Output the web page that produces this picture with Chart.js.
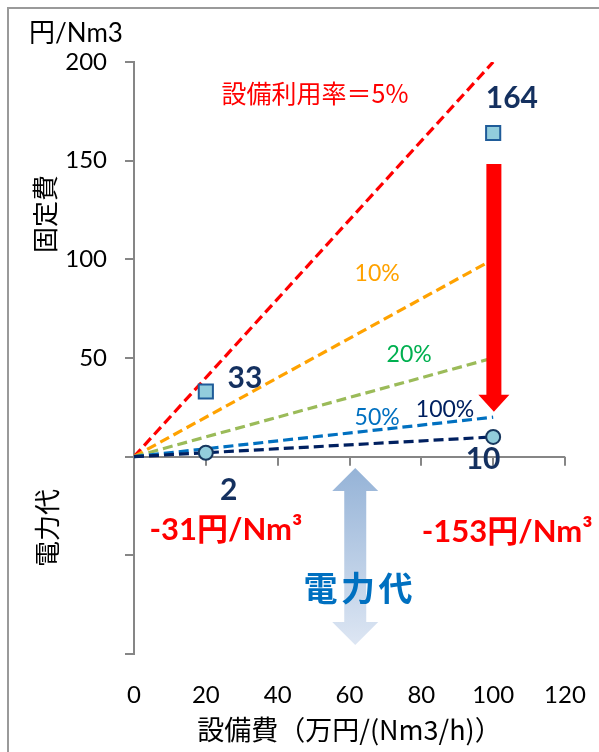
<!DOCTYPE html>
<html>
<head>
<meta charset="utf-8">
<script src="https://cdn.jsdelivr.net/npm/chart.js@4/dist/chart.umd.min.js"></script>
<style>
  html, body { margin: 0; padding: 0; background: #fff; overflow: hidden; }
  #wrap { position: relative; width: 599px; height: 752px; }
</style>
</head>
<body>
<div id="wrap"><canvas id="c" width="599" height="752"></canvas></div>
<script>
// Fixed cost per Nm3 versus equipment cost, for several utilisation rates
const rateLabels = ['設備利用率＝5%', '10%', '20%', '50%', '100%'];
const lineX = [0, 100];                       // 万円/(Nm3/h)
const fixedCostAt100 = [200, 100, 50, 20, 10]; // 円/Nm3 at 100 万円/(Nm3/h)
const pointX = [20, 100];
const fixedCost = [33, 164];
const electricityCost = [2, 10];
const powerSaving = ['-31円/Nm³', '-153円/Nm³'];
const xTickValues = [0, 20, 40, 60, 80, 100, 120];
const yTickValues = [-100, -50, 0, 50, 100, 150, 200];

const LATIN = "Lato, 'Noto Sans CJK JP', sans-serif";
const CJK = "'Noto Sans CJK JP', Lato, sans-serif";
const AXIS_GRAY = '#868686';
const NAVY = '#14305F';

const lineColors = ['#FF0000', '#FFA200', '#9BBB59', '#0070C0', '#002060'];
const labelColors = ['#FF0000', '#FFA200', '#00B050', '#0070C0', '#002060'];

// text annotations, positioned in data units
const notes = [
  { text: rateLabels[0], x: 50.4, y: 183.8, color: labelColors[0], font: `25px ${CJK}` },
  { text: rateLabels[1], x: 67.7, y: 92.6,  color: labelColors[1], font: `23px ${LATIN}` },
  { text: rateLabels[2], x: 76.6, y: 51.6,  color: labelColors[2], font: `23px ${LATIN}` },
  { text: rateLabels[3], x: 67.7, y: 19.6,  color: labelColors[3], font: `23px ${LATIN}` },
  { text: rateLabels[4], x: 86.6, y: 23.7,  color: labelColors[4], font: `23px ${LATIN}` },
  { text: String(fixedCost[1]), x: 105.2, y: 181.8, color: NAVY, font: `bold 30px ${LATIN}` },
  { text: String(fixedCost[0]), x: 30.9,  y: 39.9,  color: NAVY, font: `bold 30px ${LATIN}` },
  { text: String(electricityCost[0]), x: 26.4, y: -16.9, color: NAVY, font: `bold 30px ${LATIN}` },
  { text: String(electricityCost[1]), x: 97.2, y: -1.2,  color: NAVY, font: `bold 30px ${LATIN}` },
  { text: powerSaving[0], x: 25.6,  y: -37.1, color: '#FF0000', font: `bold 31px ${LATIN}` },
  { text: powerSaving[1], x: 103.9, y: -38.2, color: '#FF0000', font: `bold 31px ${LATIN}` }
];

const datasets = rateLabels.map((label, i) => ({
  label,
  data: lineX.map((x, k) => ({ x, y: k === 0 ? 0 : fixedCostAt100[i] })),
  showLine: true,
  borderColor: lineColors[i],
  borderWidth: 3.2,
  borderDash: [10, 5],
  pointRadius: 0,
  fill: false,
  order: 5 - i
}));

datasets.push({
  label: '固定費',
  data: pointX.map((x, k) => ({ x, y: fixedCost[k] })),
  showLine: false,
  pointStyle: 'rect',
  pointRadius: 10,
  pointBackgroundColor: '#92CDDC',
  pointBorderColor: '#1F5C99',
  pointBorderWidth: 2,
  order: 0
});
datasets.push({
  label: '電力代',
  data: pointX.map((x, k) => ({ x, y: electricityCost[k] })),
  showLine: false,
  pointStyle: 'circle',
  pointRadius: 7,
  pointBackgroundColor: '#92CDDC',
  pointBorderColor: '#17375E',
  pointBorderWidth: 2,
  order: 0
});

function verticalArrow(ctx, cx, yTop, yBottom, shaftHalf, headHalf, headLen, doubleHead) {
  ctx.beginPath();
  if (doubleHead) {
    ctx.moveTo(cx, yTop);
    ctx.lineTo(cx + headHalf, yTop + headLen);
    ctx.lineTo(cx + shaftHalf, yTop + headLen);
    ctx.lineTo(cx + shaftHalf, yBottom - headLen);
    ctx.lineTo(cx + headHalf, yBottom - headLen);
    ctx.lineTo(cx, yBottom);
    ctx.lineTo(cx - headHalf, yBottom - headLen);
    ctx.lineTo(cx - shaftHalf, yBottom - headLen);
    ctx.lineTo(cx - shaftHalf, yTop + headLen);
    ctx.lineTo(cx - headHalf, yTop + headLen);
  } else {
    ctx.moveTo(cx - shaftHalf, yTop);
    ctx.lineTo(cx + shaftHalf, yTop);
    ctx.lineTo(cx + shaftHalf, yBottom - headLen);
    ctx.lineTo(cx + headHalf, yBottom - headLen);
    ctx.lineTo(cx, yBottom);
    ctx.lineTo(cx - headHalf, yBottom - headLen);
    ctx.lineTo(cx - shaftHalf, yBottom - headLen);
  }
  ctx.closePath();
  ctx.fill();
}

const overlay = {
  id: 'overlay',
  beforeDraw(chart) {
    const { ctx, width, height } = chart;
    ctx.save();
    ctx.fillStyle = '#fff';
    ctx.fillRect(0, 0, width, height);
    // outer frame
    ctx.strokeStyle = '#9A9A9A';
    ctx.lineWidth = 2;
    ctx.beginPath();
    ctx.moveTo(8, height);
    ctx.lineTo(8, 8);
    ctx.lineTo(width, 8);
    ctx.stroke();
    ctx.restore();
  },
  beforeDatasetsDraw(chart) {
    const { ctx, scales: { x, y } } = chart;
    const y0 = y.getPixelForValue(0);
    ctx.save();
    ctx.strokeStyle = AXIS_GRAY;
    ctx.lineWidth = 2;
    ctx.beginPath();
    xTickValues.forEach(v => {
      const px = Math.round(x.getPixelForValue(v));
      ctx.moveTo(px, y0);
      ctx.lineTo(px, y0 + 9);
    });
    ctx.stroke();
    ctx.restore();
  },
  afterDatasetsDraw(chart) {
    const { ctx, scales: { x, y } } = chart;
    ctx.save();

    // red arrow: fixed cost drop at 100 万円/(Nm3/h)
    ctx.fillStyle = '#FF0000';
    verticalArrow(ctx, x.getPixelForValue(100.2), y.getPixelForValue(148.3),
      y.getPixelForValue(22.7), 7.5, 15.5, 17, false);

    // double arrow for electricity cost
    const top = y.getPixelForValue(-5.7), bottom = y.getPixelForValue(-95.4);
    const g = ctx.createLinearGradient(0, top, 0, bottom);
    g.addColorStop(0, '#95B3D7');
    g.addColorStop(1, '#DDE6F3');
    ctx.fillStyle = g;
    verticalArrow(ctx, x.getPixelForValue(61.6), top, bottom, 11, 23, 23, true);

    ctx.textAlign = 'center';
    ctx.textBaseline = 'middle';
    notes.forEach(n => {
      ctx.font = n.font;
      ctx.fillStyle = n.color;
      ctx.fillText(n.text, x.getPixelForValue(n.x), y.getPixelForValue(n.y));
    });

    // big label on the double arrow
    ctx.font = `bold 34px ${CJK}`;
    ctx.fillStyle = '#0070C0';
    const big = '電力代';
    const cx = x.getPixelForValue(62.4), cy = y.getPixelForValue(-66.5);
    [...big].forEach((ch, i) => ctx.fillText(ch, cx + (i - 1) * 37.5, cy));

    // axis captions
    ctx.fillStyle = '#000';
    ctx.font = `26px ${LATIN}`;
    ctx.textAlign = 'left';
    ctx.fillText('円/Nm3', 29, 34);

    ctx.textAlign = 'center';
    ctx.font = `26px ${CJK}`;
    [['固定費', 45, 214], ['電力代', 47, 528]].forEach(([t, px, py]) => {
      ctx.save();
      ctx.translate(px, py);
      ctx.rotate(-Math.PI / 2);
      ctx.fillText(t, 0, 0);
      ctx.restore();
    });
    ctx.restore();
  }
};

new Chart(document.getElementById('c'), {
  type: 'scatter',
  data: { datasets },
  options: {
    responsive: false,
    animation: false,
    devicePixelRatio: 1,
    layout: { padding: { left: 8, right: 34, top: 62, bottom: 0 } },
    plugins: { legend: { display: false }, tooltip: { enabled: false } },
    scales: {
      x: {
        type: 'linear',
        position: 'bottom',
        min: 0,
        max: 120,
        afterBuildTicks: s => { s.ticks = xTickValues.map(value => ({ value })); },
        afterFit: s => { s.height = 98; s.paddingLeft = 0; s.paddingRight = 0; },
        ticks: { color: '#000', font: { family: LATIN, size: 24 }, padding: 27, maxRotation: 0 },
        grid: { display: false, drawTicks: false },
        border: { display: false },
        title: {
          display: true,
          text: '設備費（万円/(Nm3/h)）',
          color: '#000',
          font: { family: CJK, size: 27 },
          padding: { top: 0, bottom: 6 }
        }
      },
      y: {
        type: 'linear',
        min: -100,
        max: 200,
        afterBuildTicks: s => { s.ticks = yTickValues.map(value => ({ value })); },
        afterFit: s => { s.width = 126; s.paddingTop = 0; s.paddingBottom = 0; },
        ticks: {
          color: '#000',
          font: { family: LATIN, size: 24 },
          padding: 18,
          callback: v => (v > 0 ? String(v) : '')
        },
        grid: {
          color: c => (c.tick && c.tick.value === 0 ? AXIS_GRAY : 'rgba(0,0,0,0)'),
          tickColor: AXIS_GRAY,
          tickLength: 9,
          lineWidth: 2
        },
        border: { display: true, color: AXIS_GRAY, width: 2 }
      }
    }
  },
  plugins: [overlay]
});
</script>
</body>
</html>
